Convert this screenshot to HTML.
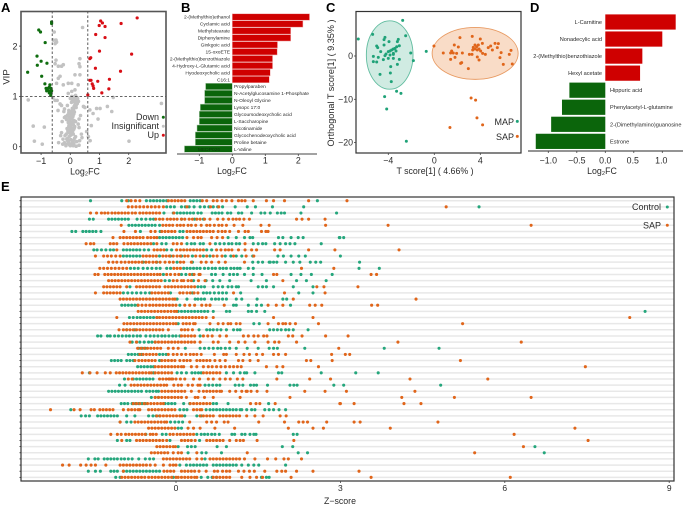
<!DOCTYPE html>
<html lang="en"><head><meta charset="utf-8"><title>Metabolomics multi-panel figure</title>
<style>
html,body{margin:0;padding:0;background:#fff}
svg{display:block;font-family:"Liberation Sans",sans-serif;filter:blur(.35px)}
</style></head>
<body>
<svg id="fig" width="685" height="506" viewBox="0 0 685 506" xmlns="http://www.w3.org/2000/svg">
<rect width="685" height="506" fill="#fff"/>
<text x="1" y="12" font-size="13" font-weight="700">A</text>
<text x="181" y="12" font-size="13" font-weight="700">B</text>
<text x="326" y="12" font-size="13" font-weight="700">C</text>
<text x="530" y="12" font-size="13" font-weight="700">D</text>
<text x="1" y="191" font-size="13" font-weight="700">E</text>
<g id="a"></g>
<g id="b"></g>
<g id="c"></g>
<g id="d"></g>
<g id="e"></g>
</svg>
<script>
// ---------- Panel A data ----------
const downLfc=[-.64,-.64,-1.08,-1.02,-.86,-1.14,-1.0,-1.13,-.8,-1.46,-.98,-.87,-.7,-.72,-.83,-.78,-.66,-.72,-.81,-.64,-.72,-.66,-.67];
const downVip=[2.48,2.45,2.32,2.28,2.07,1.8,1.7,1.62,1.66,1.48,1.4,1.25,1.23,1.18,1.16,1.16,1.16,1.11,1.11,1.11,1.07,1.06,1.02];
const upLfc=[2.29,1.04,1.1,.99,1.19,1.74,.87,1.19,1.0,2.1,.7,.67,.86,1.72,.67,.71,.94,1.34,.75,.78,.8,1.32,1.08,.6];
const upVip=[2.56,2.5,2.46,2.41,2.39,2.45,2.23,2.17,1.9,1.84,1.77,1.75,1.56,1.5,1.32,1.32,1.3,1.34,1.25,1.21,1.16,1.15,1.07,1.03];
const grayLfc=[-.55,-.58,-.47,-.52,-.49,.42,.33,.3,-.49,-.41,-.3,-.24,-.52,-.41,-.35,-.47,-.24,-.07,.05,.33,.16,.33,.27,.16,.05,-.07,-1.44,1.47,3.12,1.27,1.02,.9,.67,.78,1.42,-1.27,-.89,-1.23,-.96,2.01,.56,.62,.68,.72,.95,
.0,.03,-.03,.06,-.06,.09,-.09,.12,-.12,.15,-.15,.18,-.18,.02,-.02,.05,-.05,.08,-.08,.11,-.11,.14,-.14,.01,-.01,.04,-.04,.07,-.07,.1,-.1,.13,-.13,.0,.03,-.03,.06,-.06,.09,-.09,.12,.02,-.02,.05,-.05,.08,.11,.14,.17,.2,.04,.07,.1,.13,.16,.19,.22,.25,.12,.15,.18,.21,.24,.27,.3,.09,-.16,-.2,-.25,-.3,-.35,-.4,-.45,-.22,-.28,-.33,.3,.35,.4,.45,.5,.32,.38,-.2,-.3,-.42,-.52,-.6,.0,.05,.1,.15,.2,.24,.28,-.05,-.1,-.15,-.2,-.26,.1,.2,.3,.02,.12,.22,
-.04,.02,.08,-.08,-.02,.05,.0,-.05,.1,.07,-.1,.03,.12,-.03,.06,.01,-.06,.09,.04,-.01,.14,.11,.07,.13,.16,.1,.18,.12,.2,.15];
const grayVip=[2.28,2.12,2.08,2.05,2.12,2.37,1.75,1.65,1.72,1.6,1.6,1.63,1.65,1.36,1.4,1.26,1.23,1.26,1.26,1.59,1.43,1.43,1.23,1.13,1.1,1.06,.93,.98,.86,.8,.76,.76,.73,.66,.7,.41,.39,.11,.05,.11,.3,.2,.12,.42,.55,
.02,.05,.04,.08,.07,.1,.12,.13,.15,.17,.05,.2,.22,.25,.27,.28,.3,.31,.33,.35,.36,.38,.25,.4,.42,.43,.45,.47,.48,.5,.14,.52,.54,.55,.57,.58,.3,.6,.62,.63,.65,.67,.68,.7,.72,.74,.75,.78,.8,.83,.88,.92,.96,.98,.92,.88,.85,.95,.9,1.0,1.02,.98,.97,.45,.55,.35,.6,.75,.15,.28,.85,.08,.92,.7,.5,.22,.38,.62,.18,.8,.78,.12,.25,.58,.82,.72,.92,.97,.96,1.0,.95,.99,.78,.86,.9,.68,.82,.02,.08,.05,.02,.01,.03,.14,.06,.1,
.2,.23,.27,.3,.33,.36,.38,.41,.44,.46,.16,.48,.5,.52,.55,.58,.12,.6,.63,.66,.69,.72,.76,.8,.84,.25,.5,.35,.9,.4];
const volcanoXTicks=[-1,0,1,2];
const volcanoYTicks=[0,1,2];
// ---------- Panel B data ----------
const bNames=["2-(Methylthio)ethanol","Cyclamic acid","Methylstearate","Diphenylamine","Ginkgoic acid","15-oxoETE","2-(Methylthio)benzothiazole","4-Hydroxy-L-Glutamic acid","Hyodeoxycholic acid","C16:1","Propylparaben","N-Acetylglucosamine 1-Phosphate","N-Oleoyl Glycine","Lysopc 17:0","Glycoursodeoxycholic acid","L-Saccharopine","Nicotinamide","Glycochenodeoxycholic acid","Proline betaine","L-Valine"];
const bValues=[2.34,2.14,1.77,1.77,1.37,1.36,1.22,1.22,1.15,1.12,-.81,-.84,-.84,-.97,-1,-1,-1.07,-1.12,-1.12,-1.45];
const bTicks=[-1,0,1,2];
// ---------- Panel C data ----------
const mapT=[-5.36,-4.29,-4.37,-3.94,-3.13,-3.21,-2.49,-5.01,-4.92,-4.37,-3.04,-3.27,-3.42,-3.56,-3.71,-3.85,-4,-3.33,-3.56,-4.2,-3.85,-3.56,-4.29,-4.66,-5.3,-4.87,-4.43,-4,-3.56,-3.04,-5.3,-5.01,-3.79,-3.21,-4.72,-3.82,-3.74,-2.05,-1.82,-6.61,-2.75,-.7,-4.32,-3.28,-2.9,-4.14,-2.43];
const mapO=[5,4.31,3.77,3.31,3.85,3.31,4.69,2.31,1.92,2.54,2.38,2.15,1.77,1.62,1.38,1.15,1,1.15,.62,.46,.23,.38,.08,1,-.08,-.31,-.85,-.54,-.54,-.77,-1.31,-1.38,-2.46,-1.92,-4.23,-3.92,-5.92,.69,-1.08,3.92,8.23,1.08,-9.38,-8.15,-8.62,-12.23,-19.7];
const sapT=[-.03,.78,1.51,1.42,1.74,2.09,1.65,1.94,1.8,1.42,2.44,2.23,2.38,2.29,2.96,3.05,3.28,3.3,4,3.54,3.39,3.68,3.83,4.18,3.34,3.54,3.74,3.89,4.03,4.2,4.44,3.74,3.89,4.69,4.9,5.05,5.28,5.57,5.48,5.81,5.71,6,6.78,6.52,6.67,3.2,3.59,3.71,4.2,1.36];
const sapO=[2.31,.69,1.15,.69,2.54,2.08,.69,.62,-.31,-.77,.69,4.23,-1.54,-1.69,-2.92,.38,.38,4.54,3.92,2.54,2,2.15,2.54,2.92,1.38,1.62,1.38,1.62,1.15,.62,.38,-.23,-.92,1.92,2.31,1.38,2.92,2.85,1.92,.77,-.38,-1.92,-1.85,.38,1.31,-9.69,-10.2,-14.3,-15.9,-16.5];
const cXTicks=[-4,0,4];
const cYTicks=[0,-10,-20];
// ---------- Panel D data ----------
const dNames=["L-Carnitine","Nonadecylic acid","2-(Methylthio)benzothiazole","Hexyl acetate","Hippuric acid","Phenylacetyl-L-glutamine","2-(Dimethylamino)guanosine","Estrone"];
const dValues=[1.235,1,.65,.61,-.63,-.76,-.95,-1.22];
const dTicks=[-1,-.5,0,.5,1];
// ---------- Panel E data (one array per row, z-scores) ----------
const controlRows=[
[-1.56,-.99,-.87,-.54,-.47,-.41,-.35,-.29,-.23,-.17,.26,.32,.38,.44,2.58],
[-.17,-.1,-.03,.1,.17,.24,.33,.44,.52,.6,.68,.76,.85,1.08,1.3,1.45,1.76,2.33,5.53],
[-.22,-.05,.02,.08,.14,.2,.26,.32,.4,.46,.66,.72,.78,.84,.94,1,1.14,1.2,1.38,1.55,1.62,1.72,1.85,1.92,1.98,2.28,2.93],
[-1.58,-1.51,-1.23,-1.17,-1.11,-1.05,-.99,-.93,-.87,-.71,-.63,-.55,-.47,-.41,.1,.34,.5],
[-.86,-.8,-.74,-.68,-.62,-.56,-.5,-.44,-.38,-.3],
[-1.9,-1.83,-1.7,-1.64,-1.58,-1.52,-1.46,-1.37,-.65,-.29,.07,.13],
[-.3,-.24,-.18,-.12,-.06,0,.06,.12,.95,1.1,1.25,1.35,1.4,1.87,1.95,2.1,2.23,2.32,2.98,2.99,3.06],
[-.41,-.26,-.18,.2,.28,.34,.44,.5,.72,.8,.88,.96,1.02,1.1,1.16,1.41,1.5,1.58,1.64,1.8,1.9,2,2.08,2.17,2.65],
[-1.5,-1.44,-1.36,-1.28,-1.2,-1.14,-.96,-.9,-.84,-.78,-.72,-.66,-.58,-.5,-.17,-.08,.56,.65],
[-.96,-.9,-.84,-.78,-.72,-.66,-.3,-.1,.1,.3,.5,.62,.9,1,1.1,1.2,1.4,1.86,1.96,2.1,2.24,2.36,3],
[-.6,-.35,.02,.3,1.4,1.5,1.58,1.7,1.72,1.78,1.84,2,2.14,2.26,2.45,2.55,2.64,3.35],
[-.83,-.76,-.69,-.6,-.52,-.44,-.36,-.29,-.17,-.1,.14,.2,.26,.32,.38,.44,.52,.59,.66,.72,.8,.86,.92,1,1.06,1.12,1.17,1.32,1.41,3.34,3.71],
[-.23,.1,.18,.3,.65,.72,.86,.98,1.05,1.12,1.25,1.41,1.57,2.1,2.28,2.47,2.85],
[-.2,-.12,.32,.55,.67,.8,.98,1.37,1.65,2.2,2.38,2.74],
[-.84,.4,.46,.52,.68,.77,.85,.95,1.02,1.1,1.14,1.5,1.58,1.65,1.78,2.14,2.5],
[-.96,-.88,-.8,-.72,-.64,-.56,-.48,-.1,.3,.5,.56,.62,.7,.78,.85,.92,1.18,2.24,2.5],
[.02,.2,.35,.4,.46,.52,.65,.72,.78,.85,.92,1.1,1.2,1.48,1.95,2.02],
[-.99,-.93,-.87,-.81,-.75,-.7,.07,1.05,1.1,1.32,1.47,1.56,2.09],
[.04,.1,.16,.22,.28,.34,.4,.46,.52,.58,.68,.92,.98,1.32,1.38,1.47,1.62,8.56],
[-.85,-.78,-.71,-.65,-.59,-.53,-.47,-.41,-.35],
[.04,1.42,1.52],
[-.9,-.75,.42,.56,.62,.68,.75,.82,.92,1.05,1.12,1.17,1.71,1.78,1.85,1.92,2,2.06,2.14,2.41],
[-1.43,-1.37,-1.25,-1.2,-1.12,-1.05,-.98,-.91,-.85,-.78,-.71,-.65,-.55,-.47,-.4,-.33,-.26,-.2,-.13,-.06,0,.07,.44],
[-.8,-.72,-.66,-.58,-.5,-.44,-.38],
[-.68,-.62,-.56,.17,.44,.52,.6,.68,.76,.82,.9,.98,1.1,1.3,1.5,1.7,1.78,1.85,2.35,3.8,4.8],
[-.87,-.81,-.75,-.69,-.63,-.3,-.24,-.18],
[-1.18,-1.12,-1.06,-1,-.9,-.84,-.78,-.3],
[-.7,-.64,-.58,-.52,-.46,-.41],
[-1.58,-.41,.02,.1,.19,.29,.35,.41,.46,.92,1.05,1.17,1.25,1.29,1.44,1.87,1.93,2.65,3.28,3.69],
[-.94,-.78,-.72,-.66,-.6,-.54,-.48,-.42],
[-1.03,-.93,.53,.6,.67,.74,.8,1.08,1.15,1.22,1.36,1.42,1.47,1.67,2.08,2.15,2.21,2.88,3.06,4.83],
[-1.23,-1.17,-1.11,-1.05,-.99,-.93,-.87,-.81,-.75,-.69,-.63,-.54,-.48,-.42,-.36,-.32],
[-.45,-.38,-.32],
[-1,-.94,-.88,-.8,-.74,-.68,-.62,-.56,-.2,-.14,-.08,-.02,.14,.25,.68,.74,.95,1.69],
[-1.92,.07,.14,.2,.55,.62,.68,.74,.8,.86,.92,.98,1.04,1.1,1.17,1.2,1.29,1.38,1.44,1.62,1.7,1.78,1.88,2.0],
[-1.73,-1.65,-1.58,-1.43,-1.37,-1.31,-1.25,-1.19,-1.13,-1.07,-.9,-.75,-.5,-.42,-.36,-.3,.16,.38,.46],
[-1.02,-.9,-.82,-.1,-.02,.05,.12],
[.04,.1],
[-.55,-.25,-.18,.38,.46,.52,.58,.65,.71,.79,1.02,1.07,1.2,1.26,1.35,1.42,1.46,2.14,2.21],
[-1.07,-.9,-.84,-.11,.43],
[.04,.21,.28,.35,.75,.92,1.94,2.13,6.55],
[.22,.47,.55,.83,2.23,2.4,6.72],
[-1.6,-1.48,-1.42,-1.31,-1.25,-1.19,-1.13,-1.07,-1,-.94,-.87,-.8,-.68,-.56,-.48,-.41,.53],
[.07,.19,.26,.32,.38,.44,.5,.56,.68,.74,.8,.86,.92,.98,1.04,1.1,1.2,1.32,1.42,1.51,2.0],
[-1.6,-1.47,-1.38,-1.19,-1.13,-1.07,-.96,-.9,-.84,-.78,-.72,-.66,-.6,-.54,-.48,-.42,-.36,-.3],
[-1.1,-1.02,-.05,.46,.58,.66,.74,1.56,1.65,1.7]];
const sapRows=[
[-.9,-.82,-.74,-.66,-.14,-.08,-.02,.04,.1,.16,.48,.56,.68,.75,.84,.92,1.02,1.14,1.2,1.26,1.41,1.65,1.78,1.98,2.42,3.12],
[-.87,-.8,-.73,-.66,-.59,-.52,-.45,-.38,-.31,-.23,.2,.63,.78,4.93],
[-1.56,-1.45,-1.36,-1.3,-1.24,-1.17,-1.11,-1.05,-.99,-.93,-.87,-.8,-.74,-.66,-.6,-.54,-.48,-.42,-.36,-.3,-.04],
[-.37,-.3,-.24,-.16,-.1,-.04,.02,.1,.16,.24,.3,.38,.44,.52,.62,.76,.86,.96,1.04,1.1,1.16,1.24,1.34,2.2,2.3,2.42,2.72],
[-1,-.24,-.18,-.12,-.06,.02,.08,.14,.22,.28,.36,.46,.56,.62,.7,.78,.84,.92,1.06,1.22,1.55,1.7,2.73,3.87,6.48],
[-.95,-.74,-.46,-.38,-.26,-.2,-.14,-.08,-.02,.2,.26,.32,.38,.44,.5,.56,.62,.68,.77,.84,.9,.98,1.14,1.26,1.32,1.56,1.64,1.68],
[-1.15,-1.02,-.96,-.9,-.84,-.78,-.72,-.66,-.6,-.52,-.46,-.4,-.35,.2,.32,.4,.46,.65,.75,.85],
[-1.64,-1.56,-1.5,-1.2,-1.14,-1.08,-.95,-.88,-.82,-.76,-.7,-.64,-.58,-.52,-.46,-.35,-.05,.02,.1,.62,1.26],
[-1.08,-.4,-.34,-.28,-.22,.01,.08,.14,.2,.26,.32,.38,.44,.5,.74,.82,.9,.96,1.02,1.14,1.26,1.38,1.47,1.8,1.9,2.42,2.9,4.07],
[-1.47,-1.32,-1.25,-1.18,-1.1,-1.02,-.6,-.54,-.48,-.42,-.36,-.24,-.18,-.12,-.05,.02,.08,.16,.22,.36,.44,.56,.68,.75,.84,1.05,1.28,1.42],
[-1.23,-1.15,-1.08,-1,-.93,-.86,-.8,-.74,-.68,-.62,-.55,-.49,-.42,-.36,-.29,-.2,-.12,-.05,.08,.14,.28,.46,.55,.65,.78,.9,1.25],
[-1.39,-1.32,-1.25,-1.18,-1.11,-1.04,-.97,-.9,-.04,.02,.08,2.29,2.88],
[-1.48,-1.42,-1.3,-1.24,-1.18,-1.12,-1.06,-1,-.94,-.88,-.82,-.76,-.7,-.64,-.58,-.52,-.46,-.4,-.34,-.29,-.17,-.1,-.02,.05,.25,.33,.42,.44,1.78,1.84,3.56,3.66],
[-1.23,-1.17,-1.11,-1.05,-.99,-.93,-.87,-.81,-.75,-.69,-.63,-.57,-.51,-.45,-.39,-.33,-.27,-.05,.02,.1,.14,.22,.28,.41,.53,1.95],
[-1.32,-1.26,-1.2,-1.14,-1.08,-1.02,-.9,-.72,-.66,-.6,-.54,-.48,-.42,-.36,-.3,-.2,-.14,-.08,-.02,.04,.1,.16,.22,.28,.34,2.57,2.7,3.32],
[-1.47,-1.32,-1.26,-1.2,-1.14,-1.08,-1.02,-.44,-.38,-.32,-.26,-.2,-.14,.07,.13,.2,.26,.33,.4,1.05,1.98,2.72],
[-1.02,-.96,-.9,-.84,-.78,-.72,-.66,-.6,-.54,-.48,-.42,-.36,-.3,-.24,-.18,-.12,-.06,-.02,2.14,4.38],
[-.69,-.62,-.55,-.48,-.42,-.36,-.3,-.24,-.18,-.12,-.06,.0,.16,.25,.34,.47,.55,.62,.62,.88,1.68,1.83,1.95,2.44,2.54,2.66,3.57,3.68],
[-.69,-.63,-.57,-.51,-.45,-.39,-.33,-.27,-.21,-.15,-.09,-.03,.01],
[-1.08,-.35,-.3,-.24,-.18,-.12,-.06,0,.06,.12,.18,.24,.3,.36,.42,.48,.55,.68,1.78,2.5,8.28],
[-.95,-.89,-.83,-.77,-.71,-.65,-.59,-.53,-.47,-.41,-.35,-.29,-.23,-.17,-.11,-.05,.0,.13,.19,.25,.32,.35,.62,.77,.86,.95,1,1.1,1.17,1.68,1.87,1.95,2,2.08,2.18,2.6,5.23],
[-1.04,-.96,-.9,-.84,-.78,-.72,-.66,-.6,-.54,-.48,-.42,-.36,-.3,-.24,-.14,.1,.16,.22,.3],
[.1,.16,.22,.28,.34,.5,.58,.66,.8,.92,1.23,1.32,1.42,1.5,1.6,1.66,2.05,2.13,2.3,2.73,3.14],
[-.84,-.72,-.38,-.32,-.26,-.2,-.14,-.08,-.02,.04,.1,.16,.22,.28,.34,.44,.68,.77,.98,1.14,1.26,1.44,1.68,1.8,1.88,2.2,4.05,6.3],
[-.7,-.64,-.58,-.52,-.46,-.4,-.34,-.28,-.14,-.05,.04,2.97],
[-.66,-.6,-.54,-.48,-.42,-.36,-.14,-.05,.02,.1,.18,.26,.32,.38,.46,.7,.87,.92,1.1,1.24,1.34,1.47,1.58,1.78,1.87,2,2.84,3.09,3.17],
[-.75,-.68,-.62,-.56,-.5,-.44,-.38,-.26,-.2,-.14,-.08,-.02,.07,.14,.2,.26,.38,.44,.5,.56,.62,.71,.8,.9,1.14,1.22,1.35,1.5,2.38,2.46,2.85,5.19],
[-.38,-.32,-.26,-.2,-.14,-.08,-.02,.04,.1,.14,.28,.38,.5,.59,.66,.74,.82,.9,.98,1.05,1.12,1.19,1.65,1.84,1.95,2.6,7.47],
[-1.71,-1.57,-1.44,-1.29,-1.2,-1.09,-1.03,-.97,-.91,-.85,-.79,-.73,-.67,-.61,-.55,-.49,-.45,-.38,-.32,-.26,-.2,-.14,-.08,.5,.56,.62,.68,.74,.8],
[-.87,-.8,-.3,-.24,-.18,-.12,-.06,-.13,-.08,.0,.08,.16,.32,.43,.59,.68,.8,.9,.99,1.12,1.22,1.84,2.44,2.82,4.27,5.69],
[-.82,-.76,-.7,-.64,-.58,-.52,-.46,-.4,-.34,-.28,-.22,-.17,-.04,.04,.1,.22,.3,.4,.44],
[-.26,-.2,-.14,-.08,-.02,.04,.1,.16,.28,.42,.5,.56,.62,.68,.74,.8,.83,.98,1.09,1.2,1.28,1.3,1.37,1.48,1.66,2.35,2.72,3.11,4.36],
[-.38,-.32,-.26,-.2,-.14,-.08,-.02,.04,.1,.19,.35,.4,.52,.68,1.17,2.08,4.12,5.08,6.48],
[-.78,-.72,-.66,-.58,-.52,-.46,-.4,-.34,-.28,-.23,.26,.32,.38,.44,.5,.56,.62,1.36,1.46,1.53,1.81,2.99,3,3.25,4.16,4.47],
[-2.29,-1.86,-1.75,-1.55,-1.49,-1.39,-1.33,-1.27,-1.21,-1.15,-.96,-.87,-.81,-.75,-.69,-.66,-.5,-.44,-.38,-.32,-.26,-.2,-.14,-.08,-.02,.32,.38,.44,.47],
[-.35,-.29,-.23,-.17,-.11,-.05,.01,.07,.11,.44,.5,.56,.62,.68,.8,.86,.92,.98,1.04,1.1,1.16,1.29,1.44,1.59,1.9,2.01],
[-1.02,-.75,-.69,-.63,-.57,-.51,-.45,-.39,-.33,-.27,-.21,-.17,.25,.56,.65,.74,.88,.95,1.51,1.98,2.24,2.32,2.4,2.75,3.25,3.36,4.78],
[-.5,-.44,-.38,-.32,-.26,-.2,-.14,-.08,-.02,.22,.32,.44,.71,1.07,2.05,2.5,2.69,3.91,7.28],
[-1.19,-1.07,-1,-.92,-.86,-.8,-.74,-.68,-.62,-.56,-.47,-.42,-.36,-.11,-.05,.02,.08,.14,.2,.26,.32,6.17],
[-.99,-.72,-.66,-.6,-.54,-.48,-.42,-.36,-.3,-.24,-.17,.1,.16,.22,.28,.35,.56,.62,.68,.74,.8,.86,.98,1.1,1.17,1.23,1.48,2.15,7.52],
[-.35,-.29,-.23,-.17,-.11,-.05,-.01,6.34],
[-.45,-.39,-.33,-.27,-.21,-.15,-.05,.04,.1,.38,1.3,5.45],
[-.23,-.17,-.11,-.05,.01,.07,.13,.19,.25,.38,.47,.62,.68,.74,.8,.86,.92,.98,1.04,1.1,1.16,1.25,1.44,1.67,1.82,1.97,2.05,2.29],
[-2.07,-1.95,-1.74,-1.64,-1.55,-1.47,-1.28,-1.02,-.96,-.9,-.84,-.78,-.72,-.66,-.6,-.54,-.47,-.38,-.23,-.11,-.05,.0],
[-.96,-.22,-.16,-.1,-.04,.1,.16,.22,.28,.34,.42,.55,.7,.76,.85,.92,.98,1.14,1.24,1.34,1.43,1.62,1.84,1.93,2.0,2.2,2.5,3.34],
[-.99,-.93,-.87,-.81,-.75,-.69,-.63,-.57,-.5,-.44,-.38,-.32,-.26,-.2,-.14,-.08,0,.04,.1,.16,.22,.28,.34,.38,.68,.74,.8,.86,.92,.98,1.2,1.35,1.47,1.58,2.1,3.56,6.1]];
const eTicks=[0,3,6,9];

// ---------- helpers ----------
const NS="http://www.w3.org/2000/svg";
function make(tag,parent,attrs,name){
  const el=document.createElementNS(NS,tag);
  for(const k in attrs)el.setAttribute(k,attrs[k]);
  
  
  parent.appendChild(el);
  return el;
}
function label(parent,x,y,str,size,anchor,name,extra){
  const t=make('text',parent,Object.assign({x:x,y:y,'font-size':size,'text-anchor':anchor||'middle',dy:'.35em',fill:'#2a2a2a'},extra||{}),name);
  t.textContent=str;
  return t;
}
function line(parent,x1,y1,x2,y2,stroke,w,name,dash){
  const a={x1:x1,y1:y1,x2:x2,y2:y2,stroke:stroke,'stroke-width':w};
  if(dash)a['stroke-dasharray']=dash;
  return make('line',parent,a,name);
}
function dots(parent,xs,ys,sx,sy,r,fill,name){
  xs.forEach(function(v,i){make('circle',parent,{cx:sx(v),cy:sy(ys[i]),r:r,fill:fill},name);});
}
function frame(parent,x,y,w,h,stroke,sw,name){
  make('rect',parent,{x:x,y:y,width:w,height:h,fill:'none',stroke:stroke,'stroke-width':sw},name);
}
const txtMinus=function(v){return String(v).replace('-','\u2212');};

// ---------- Panel A ----------
(function(){
  const g=document.getElementById('a');
  const sx=function(v){return 70.3+v*29.2;};
  const sy=function(v){return 146.7-v*50.3;};
  dots(g,grayLfc,grayVip,sx,sy,1.8,'#c2c2c2','insignificant-point');
  dots(g,downLfc,downVip,sx,sy,1.6,'#0f6d0f','down-point');
  dots(g,upLfc,upVip,sx,sy,1.6,'#d80f16','up-point');
  line(g,21,sy(1),166,sy(1),'#333',.8,'vip-threshold-line','2.5 2');
  line(g,sx(-.62),11,sx(-.62),153,'#333',.8,'lfc-threshold-low','2.5 2');
  line(g,sx(.6),11,sx(.6),153,'#333',.8,'lfc-threshold-high','2.5 2');
  frame(g,21,11.5,145,141.5,'#555',1.6,'volcano-frame');
  volcanoXTicks.forEach(function(v){
    line(g,sx(v),153,sx(v),155,'#444',.8,'x-tick');
    label(g,sx(v),161,txtMinus(v),9,'middle','x-tick-label');
  });
  volcanoYTicks.forEach(function(v){
    line(g,19,sy(v),21,sy(v),'#444',.8,'y-tick');
    label(g,17.5,sy(v),String(v),9,'end','y-tick-label');
  });
  label(g,85,171.5,'Log\u2082FC',8.8,'middle','x-axis-title');
  label(g,6,77,'VIP',9.5,'middle','y-axis-title',{transform:'rotate(-90 6 77)'});
  [['Down',117,'#0f6d0f'],['Insignificant',126,'#c2c2c2'],['Up',135,'#d80f16']].forEach(function(e){
    label(g,159,e[1],e[0],9,'end','legend-entry');
    make('circle',g,{cx:163.3,cy:e[1]+.3,r:1.5,fill:e[2]},'legend-dot');
  });
})();

// ---------- Panel B ----------
(function(){
  const g=document.getElementById('b');
  const sx=function(v){return 232.3+v*33;};
  const sy=function(i){return 17+i*6.95;};
  bValues.forEach(function(v,i){
    const x0=Math.min(sx(0),sx(v));
    make('rect',g,{x:x0,y:sy(i)-3.2,width:Math.abs(sx(v)-sx(0)),height:6.4,fill:v>0?'#cf0000':'#0b650b',stroke:v>0?'#f2b0b0':'#b5cfb5','stroke-width':.5},v>0?'bar-up':'bar-down');
    label(g,v>0?230:234,sy(i),bNames[i],4.9,v>0?'end':'start','metabolite-label');
  });
  label(g,209,sy(19),'MEDP026',4.9,'middle','bar-overlap-label',{fill:'#0a3a0a'});
  line(g,177,154,317,154,'#444',1,'x-axis');
  bTicks.forEach(function(v){
    line(g,sx(v),154,sx(v),156,'#444',.8,'x-tick');
    label(g,sx(v),160.5,txtMinus(v),8.8,'middle','x-tick-label');
  });
  label(g,232,171,'Log\u2082FC',8.8,'middle','x-axis-title');
})();

// ---------- Panel C ----------
(function(){
  const g=document.getElementById('c');
  const sx=function(v){return 434.3+v*11.5;};
  const sy=function(v){return 56-v*4.33;};
  make('ellipse',g,{cx:sx(-3.88),cy:sy(.23),rx:2.03*11.5,ry:7.9*4.33,fill:'#d0ebe2',stroke:'#62bda0','stroke-width':.9},'map-confidence-ellipse');
  make('ellipse',g,{cx:sx(3.55),cy:sy(.6),rx:3.74*11.5,ry:6*4.33,fill:'#f9dcc7',stroke:'#e89a62','stroke-width':.9},'sap-confidence-ellipse');
  dots(g,mapT,mapO,sx,sy,1.5,'#1fa278','map-point');
  dots(g,sapT,sapO,sx,sy,1.5,'#e0651a','sap-point');
  frame(g,356,11.5,165,141.5,'#333',1.2,'score-plot-frame');
  cXTicks.forEach(function(v){
    line(g,sx(v),153,sx(v),155,'#444',.8,'x-tick');
    label(g,sx(v),160.5,txtMinus(v),8.8,'middle','x-tick-label');
  });
  cYTicks.forEach(function(v){
    line(g,354,sy(v),356,sy(v),'#444',.8,'y-tick');
    label(g,353,sy(v),txtMinus(v),8.8,'end','y-tick-label');
  });
  label(g,435,171,'T score[1] ( 4.66% )',8.8,'middle','x-axis-title');
  label(g,331,83,'Orthogonal T score[1] ( 9.35% )',9.1,'middle','y-axis-title',{transform:'rotate(-90 331 83)'});
  [['MAP',122,'#1fa278'],['SAP',137,'#e0651a']].forEach(function(e){
    label(g,514,e[1],e[0],9,'end','legend-entry');
    make('circle',g,{cx:517.3,cy:e[1]-.6,r:1.5,fill:e[2]},'legend-dot');
  });
})();

// ---------- Panel D ----------
(function(){
  const g=document.getElementById('d');
  const sx=function(v){return 605.3+v*57;};
  const sy=function(i){return 22+i*17.05;};
  dValues.forEach(function(v,i){
    const x0=Math.min(sx(0),sx(v));
    make('rect',g,{x:x0,y:sy(i)-7.6,width:Math.abs(sx(v)-sx(0)),height:15.2,fill:v>0?'#cf0000':'#0b650b'},v>0?'bar-up':'bar-down');
    label(g,v>0?602:610,sy(i),dNames[i],5.6,v>0?'end':'start','metabolite-label');
  });
  line(g,528,151,683,151,'#555',1.2,'x-axis');
  dTicks.forEach(function(v){
    line(g,sx(v),151,sx(v),153,'#444',.8,'x-tick');
    label(g,sx(v)-(v>0?1:0),160.5,txtMinus(v.toFixed(1)),8.8,'middle','x-tick-label');
  });
  label(g,602,171,'Log\u2082FC',8.8,'middle','x-axis-title');
})();

// ---------- Panel E ----------
(function(){
  const g=document.getElementById('e');
  const sx=function(v){return 176+v*54.8;};
  const sy=function(i){return 200.7+i*6.148;};
  controlRows.forEach(function(r,i){
    line(g,21,sy(i),674,sy(i),'#e8e8e8',1.5,'row-gridline');
    line(g,19.5,sy(i),21,sy(i),'#222',.8,'row-tick');
  });
  controlRows.forEach(function(r,i){
    r.forEach(function(v){make('circle',g,{cx:sx(v),cy:sy(i),r:1.55,fill:'#25a67c'},'control-point');});
  });
  sapRows.forEach(function(r,i){
    r.forEach(function(v){make('circle',g,{cx:sx(v),cy:sy(i),r:1.55,fill:'#e0651a'},'sap-point');});
  });
  frame(g,21,197,653,284,'#333',1.2,'dot-plot-frame');
  eTicks.forEach(function(v){
    line(g,sx(v),481,sx(v),483,'#444',.8,'x-tick');
    label(g,sx(v),488,String(v),8.5,'middle','x-tick-label');
  });
  label(g,340,501,'Z\u2212score',8.8,'middle','x-axis-title');
  [['Control',207,'#25a67c'],['SAP',225.3,'#e0651a']].forEach(function(e){
    label(g,661,e[1],e[0],9,'end','legend-entry');
    make('circle',g,{cx:667.3,cy:e[1],r:1.5,fill:e[2]},'legend-dot');
  });
})();
</script>
</body></html>
